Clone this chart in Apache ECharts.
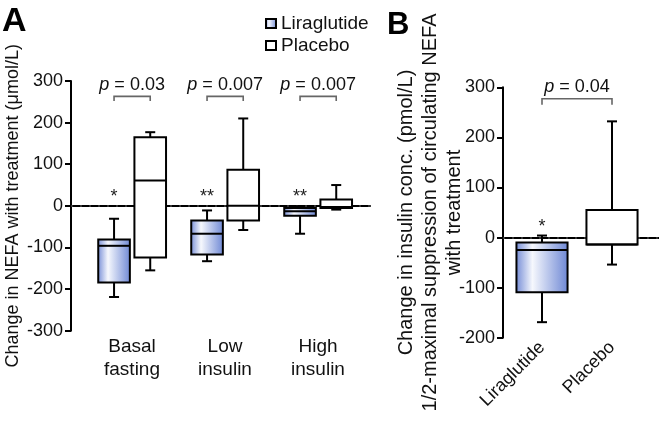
<!DOCTYPE html>
<html>
<head>
<meta charset="utf-8">
<script src="https://cdn.jsdelivr.net/npm/echarts@6/dist/echarts.min.js"></script>
<style>
html,body{margin:0;padding:0;background:#fff;}
#c{width:659px;height:423px;}
</style>
</head>
<body>
<div id="c"></div>
<script>
// ---- data ----
const categoriesA = ['Basal\nfasting', 'Low\ninsulin', 'High\ninsulin'];
const categoriesB = ['Liraglutide', 'Placebo'];
const seriesNames = ['Liraglutide', 'Placebo'];
// [min, Q1, median, Q3, max]
const liraA = [[-219, -184, -96, -81, -31], [-133, -117, -67, -35, -11], [-67, -24, -13, -5, -1]];
const placeboA = [[-155, -124, 61, 165, 177], [-58, -35, 0, 87, 210], [-9, -5, -3, 15, 50]];
const liraB = [-169, -109, -25, -10, 4];
const placeboB = [-54, -14, -14, 55, 232];
const pValuesA = ['0.03', '0.007', '0.007'];
const pValuesB = ['0.04'];
const starsA = ['*', '**', '**'];
const starsB = ['*', ''];
const yTitleA = 'Change in NEFA with treatment (\u03bcmol/L)';
const yTitleB = 'Change in insulin conc. (pmol/L)\n1/2-maximal suppression of circulating NEFA\nwith treatment';

const FONT = '"Liberation Sans", Arial, sans-serif';
const grad = () => new echarts.graphic.LinearGradient(0, 0, 1, 0, [
  {offset: 0, color: '#7189d5'},
  {offset: 0.32, color: '#f6f8fd'},
  {offset: 1, color: '#6c86d4'}
]);

function boxRenderer(offsetFrac, widthFrac, fillFn) {
  return function (params, api) {
    const idx = api.value(0);
    const band = api.size([1, 0])[0];
    const cx = api.coord([idx, 0])[0] + offsetFrac * band;
    const w = widthFrac * band;
    const y = k => api.coord([idx, api.value(k)])[1];
    const yMin = y(1), yQ1 = y(2), yMed = y(3), yQ3 = y(4), yMax = y(5);
    const cap = 10;
    const ls = {stroke: '#000', lineWidth: 2};
    return {
      type: 'group',
      children: [
        {type: 'line', shape: {x1: cx, y1: yMax, x2: cx, y2: yQ3}, style: ls},
        {type: 'line', shape: {x1: cx, y1: yQ1, x2: cx, y2: yMin}, style: ls},
        {type: 'line', shape: {x1: cx - cap / 2, y1: yMax, x2: cx + cap / 2, y2: yMax}, style: ls},
        {type: 'line', shape: {x1: cx - cap / 2, y1: yMin, x2: cx + cap / 2, y2: yMin}, style: ls},
        {type: 'rect', shape: {x: cx - w / 2, y: yQ3, width: w, height: yQ1 - yQ3}, style: {fill: fillFn(), stroke: '#000', lineWidth: 2}},
        {type: 'line', shape: {x1: cx - w / 2, y1: yMed, x2: cx + w / 2, y2: yMed}, style: ls}
      ]
    };
  };
}

function starRenderer(offsetFrac, starVal, labels) {
  return function (params, api) {
    const idx = api.value(0);
    const band = api.size([1, 0])[0];
    const cx = api.coord([idx, 0])[0] + offsetFrac * band;
    return {
      type: 'text',
      style: {x: cx, y: api.coord([idx, starVal])[1], text: labels[idx], font: '18px ' + FONT, fill: '#222', align: 'center', verticalAlign: 'middle'}
    };
  };
}

function bracketRenderer(leftFrac, rightFrac, topVal, tickVal, textVal, pList) {
  return function (params, api) {
    const idx = api.value(0);
    const band = api.size([1, 0])[0];
    const c = api.coord([idx, 0])[0];
    const x1 = c + leftFrac * band, x2 = c + rightFrac * band;
    const yt = api.coord([idx, topVal])[1];
    const yb = api.coord([idx, tickVal])[1];
    const ytx = api.coord([idx, textVal])[1];
    const ls = {stroke: '#666', lineWidth: 1.6, fill: null};
    return {
      type: 'group',
      children: [
        {type: 'polyline', shape: {points: [[x1, yb], [x1, yt], [x2, yt], [x2, yb]]}, style: ls},
        {type: 'text', style: {
          x: (x1 + x2) / 2, y: ytx, text: '{i|p} = ' + pList[idx], align: 'center', verticalAlign: 'middle',
          font: '18px ' + FONT, fill: '#111',
          rich: {i: {fontStyle: 'italic', fontSize: 18, fontFamily: FONT, fill: '#111'}}
        }}
      ]
    };
  };
}

const axisLabelStyle = {color: '#111', fontSize: 18, fontFamily: FONT};
const lineBlack = {show: true, lineStyle: {color: '#000', width: 2}};
const zeroLine = {symbol: 'none', silent: true, label: {show: false},
  lineStyle: {color: '#333', type: [2, 7], width: 2, cap: 'butt'}, data: [{yAxis: 0}]};

const chart = echarts.init(document.getElementById('c'), null, {renderer: 'canvas'});

const option = {
  animation: false,
  backgroundColor: '#fff',
  textStyle: {fontFamily: FONT},
  title: [
    {text: 'A', left: -3, top: 0, textStyle: {fontSize: 34, fontWeight: 'bold', color: '#000', fontFamily: FONT}},
    {text: 'B', left: 382, top: 5, textStyle: {fontSize: 31, fontWeight: 'bold', color: '#000', fontFamily: FONT}}
  ],
  legend: {
    orient: 'vertical', left: 260, top: 9, itemWidth: 10, itemHeight: 9, itemGap: 3,
    icon: 'rect',
    data: seriesNames,
    textStyle: {fontSize: 19, color: '#111', fontFamily: FONT}
  },
  grid: [
    {left: 71, right: 289, top: 81, bottom: 92.3},
    {left: 85.5, width: 279, top: 81, bottom: 92.3},
    {left: 503, right: 0, top: 87.3, bottom: 85.3},
    {left: 507, width: 140, top: 87.3, bottom: 85.3}
  ],
  xAxis: [
    {gridIndex: 0, type: 'value', min: 0, max: 1, axisLine: lineBlack, axisTick: {show: false}, axisLabel: {show: false}, splitLine: {show: false}},
    {gridIndex: 1, type: 'category', data: categoriesA, axisLine: {show: false}, axisTick: {show: false},
      axisLabel: Object.assign({margin: 5, lineHeight: 23, interval: 0}, axisLabelStyle, {fontSize: 19})},
    {gridIndex: 2, type: 'value', min: 0, max: 1, axisLine: lineBlack, axisTick: {show: false}, axisLabel: {show: false}, splitLine: {show: false}},
    {gridIndex: 3, type: 'category', data: categoriesB, axisLine: {show: false}, axisTick: {show: false},
      axisLabel: Object.assign({margin: 7, rotate: 45, interval: 0}, axisLabelStyle)}
  ],
  yAxis: [
    {gridIndex: 0, type: 'value', min: -300, max: 300, interval: 100, axisLine: lineBlack,
      axisTick: {show: true, length: 6, lineStyle: {color: '#000', width: 2}},
      axisLabel: Object.assign({margin: 8}, axisLabelStyle), splitLine: {show: false},
      name: yTitleA, nameLocation: 'middle', nameGap: 49, nameMoveOverlap: false,
      nameTextStyle: {fontSize: 18, color: '#111', fontFamily: FONT}},
    {gridIndex: 1, type: 'value', min: -300, max: 300, interval: 100, show: false},
    {gridIndex: 2, type: 'value', min: -200, max: 300, interval: 100, axisLine: lineBlack,
      axisTick: {show: true, length: 6, lineStyle: {color: '#000', width: 2}},
      axisLabel: Object.assign({margin: 8}, axisLabelStyle), splitLine: {show: false},
      name: yTitleB, nameLocation: 'middle', nameGap: 37, nameMoveOverlap: false,
      nameTextStyle: {fontSize: 20, color: '#111', fontFamily: FONT, lineHeight: 24, align: 'center'}},
    {gridIndex: 3, type: 'value', min: -200, max: 300, interval: 100, show: false}
  ],
  series: [
    // zero reference lines (behind boxes)
    {type: 'line', xAxisIndex: 0, yAxisIndex: 0, data: [], silent: true, z: 1, markLine: zeroLine},
    {type: 'line', xAxisIndex: 2, yAxisIndex: 2, data: [], silent: true, z: 1, markLine: zeroLine},
    // panel A boxes
    {name: seriesNames[0], type: 'custom', xAxisIndex: 1, yAxisIndex: 1, z: 5,
      itemStyle: {color: grad(), borderColor: '#000', borderWidth: 1.5},
      renderItem: boxRenderer(-0.193, 0.34, grad),
      encode: {x: 0, y: [1, 2, 3, 4, 5]},
      data: liraA.map((d, i) => [i].concat(d))},
    {name: seriesNames[1], type: 'custom', xAxisIndex: 1, yAxisIndex: 1, z: 5,
      itemStyle: {color: '#fff', borderColor: '#000', borderWidth: 1.5},
      renderItem: boxRenderer(0.196, 0.34, () => '#fff'),
      encode: {x: 0, y: [1, 2, 3, 4, 5]},
      data: placeboA.map((d, i) => [i].concat(d))},
    // panel B boxes
    {name: seriesNames[0], type: 'custom', xAxisIndex: 3, yAxisIndex: 3, z: 5,
      itemStyle: {color: grad(), borderColor: '#000', borderWidth: 1.5},
      renderItem: boxRenderer(0, 0.73, grad),
      encode: {x: 0, y: [1, 2, 3, 4, 5]},
      data: [[0].concat(liraB)]},
    {name: seriesNames[1], type: 'custom', xAxisIndex: 3, yAxisIndex: 3, z: 5,
      itemStyle: {color: '#fff', borderColor: '#000', borderWidth: 1.5},
      renderItem: boxRenderer(0, 0.73, () => '#fff'),
      encode: {x: 0, y: [1, 2, 3, 4, 5]},
      data: [[1].concat(placeboB)]},
    // stars
    {type: 'custom', xAxisIndex: 1, yAxisIndex: 1, silent: true, z: 6,
      renderItem: starRenderer(-0.193, 22, starsA),
      data: starsA.map((s, i) => [i])},
    {type: 'custom', xAxisIndex: 3, yAxisIndex: 3, silent: true, z: 6,
      renderItem: starRenderer(0, 20, starsB),
      data: starsB.map((s, i) => [i])},
    // brackets + p values
    {type: 'custom', xAxisIndex: 1, yAxisIndex: 1, silent: true, z: 6,
      renderItem: bracketRenderer(-0.193, 0.196, 263, 252, 290, pValuesA),
      data: pValuesA.map((s, i) => [i])},
    {type: 'custom', xAxisIndex: 3, yAxisIndex: 3, silent: true, z: 6,
      renderItem: (p, api) => {
        const c0 = api.coord([0, 0])[0], c1 = api.coord([1, 0])[0];
        const yt = api.coord([0, 277])[1], yb = api.coord([0, 265])[1], ytx = api.coord([0, 300])[1];
        return {type: 'group', children: [
          {type: 'polyline', shape: {points: [[c0, yb], [c0, yt], [c1, yt], [c1, yb]]}, style: {stroke: '#666', lineWidth: 1.6, fill: null}},
          {type: 'text', style: {x: (c0 + c1) / 2, y: ytx, text: '{i|p} = ' + pValuesB[0], align: 'center', verticalAlign: 'middle',
            font: '18px ' + FONT, fill: '#111', rich: {i: {fontStyle: 'italic', fontSize: 18, fontFamily: FONT, fill: '#111'}}}}
        ]};
      },
      data: [[0]]}
  ]
};
chart.setOption(option);
</script>
</body>
</html>
